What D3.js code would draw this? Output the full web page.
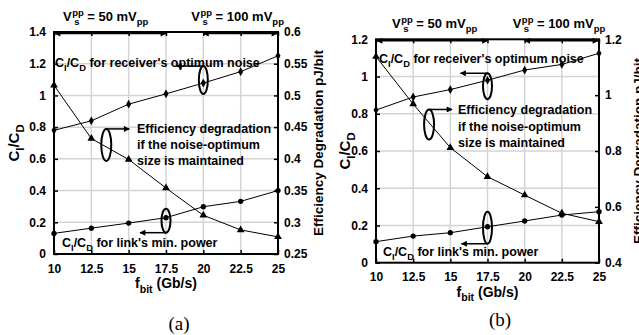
<!DOCTYPE html>
<html>
<head>
<meta charset="utf-8">
<script src="https://cdn.jsdelivr.net/npm/d3@7"></script>
<style>
  html, body { margin: 0; padding: 0; background: #fff; }
  svg { display: block; }
  text { font-family: "Liberation Sans", Arimo, sans-serif; font-weight: bold; fill: #000; }
</style>
</head>
<body>
<svg id="fig" width="639" height="335"></svg>
<script>
// Bit rate (Gb/s) shared by both panels
const fbit = [10, 12.5, 15, 17.5, 20, 22.5, 25];
const xTicks = [10, 12.5, 15, 17.5, 20, 22.5, 25];
const xTickLabels = ["10", "12.5", "15", "17.5", "20", "22.5", "25"];

// Panel (a)
const ratioNoiseA = [0.78, 0.84, 0.945, 1.01, 1.078, 1.15, 1.25];
const ratioPowerA = [0.13, 0.163, 0.195, 0.229, 0.298, 0.332, 0.40];
const degradA = [0.516, 0.432, 0.399, 0.354, 0.311, 0.288, 0.277];
const leftTicksA = [0, 0.2, 0.4, 0.6, 0.8, 1, 1.2, 1.4];
const leftTickLabelsA = ["0", "0.2", "0.4", "0.6", "0.8", "1", "1.2", "1.4"];
const rightTicksA = [0.25, 0.3, 0.35, 0.4, 0.45, 0.5, 0.55, 0.6];
const rightTickLabelsA = ["0.25", "0.3", "0.35", "0.4", "0.45", "0.5", "0.55", "0.6"];

// Panel (b)
const ratioNoiseB = [0.82, 0.89, 0.93, 0.98, 1.035, 1.065, 1.125];
const ratioPowerB = [0.113, 0.143, 0.161, 0.193, 0.224, 0.256, 0.274];
const degradB = [1.138, 0.968, 0.812, 0.708, 0.642, 0.577, 0.547];
const leftTicksB = [0, 0.2, 0.4, 0.6, 0.8, 1, 1.2];
const leftTickLabelsB = ["0", "0.2", "0.4", "0.6", "0.8", "1", "1.2"];
const rightTicksB = [0.4, 0.6, 0.8, 1, 1.2];
const rightTickLabelsB = ["0.4", "0.6", "0.8", "1", "1.2"];

const SANS = "'Liberation Sans', Arimo, sans-serif";
const svg = d3.select("#fig");

// arrowhead marker
const defs = svg.append("defs");
defs.append("marker")
  .attr("id", "ah").attr("viewBox", "0 0 10 10")
  .attr("refX", 9).attr("refY", 5)
  .attr("markerWidth", 7).attr("markerHeight", 6)
  .attr("markerUnits", "userSpaceOnUse")
  .attr("orient", "auto-start-reverse")
  .append("path").attr("d", "M0,0 L10,5 L0,10 Z").attr("fill", "#000");

// Writes base text followed by subscript runs
function richText(g, x, y, parts, size, anchor) {
  const t = g.append("text").attr("x", x).attr("y", y)
    .attr("font-size", size).attr("text-anchor", anchor || "start");
  let shift = 0;
  parts.forEach(p => {
    const s = t.append("tspan").text(p.t);
    const target = p.sub ? size * 0.33 : 0;
    if (target !== shift) { s.attr("dy", target - shift); shift = target; }
    if (p.sub) s.attr("font-size", size * 0.75);
  });
  return t;
}

// "V_s^pp = N mV_pp" with stacked sub/superscript
function supplyLabel(g, x, y, value) {
  const size = 13;
  const v = g.append("text").attr("x", x).attr("y", y).attr("font-size", size).text("V");
  const wV = v.node().getComputedTextLength();
  const sup = g.append("text").attr("x", x + wV + 0.5).attr("y", y - 5)
    .attr("font-size", 9.5).text("pp");
  g.append("text").attr("x", x + wV + 2.5).attr("y", y + 4)
    .attr("font-size", 9.5).text("s");
  const wS = sup.node().getComputedTextLength();
  const main = g.append("text").attr("x", x + wV + wS + 4).attr("y", y)
    .attr("font-size", size).text("= " + value + " mV");
  const wM = main.node().getComputedTextLength();
  g.append("text").attr("x", x + wV + wS + 4 + wM).attr("y", y + 4)
    .attr("font-size", 9.5).text("pp");
}

function ratioLabel(g, x, y, rest, size) {
  return richText(g, x, y, [
    { t: "C" }, { t: "I", sub: true }, { t: "/C" }, { t: "D", sub: true }, { t: rest }
  ], size);
}

function drawPanel(cfg) {
  const g = svg.append("g");
  const { x0, x1, top, bottom } = cfg;
  const x = d3.scaleLinear().domain([10, 25]).range([x0, x1]);
  const yL = d3.scaleLinear().domain(cfg.leftDomain).range([bottom, top]);
  const yR = d3.scaleLinear().domain(cfg.rightDomain).range([bottom, top]);

  // grid
  const grid = g.append("g").attr("stroke", "#d4d4d4").attr("stroke-width", 1.5);
  xTicks.slice(1, -1).forEach(v => grid.append("line")
    .attr("x1", x(v)).attr("x2", x(v)).attr("y1", top).attr("y2", bottom));
  cfg.leftTicks.slice(1, -1).forEach(v => grid.append("line")
    .attr("x1", x0).attr("x2", x1).attr("y1", yL(v)).attr("y2", yL(v)));

  // axes (ticks point inward)
  const fmt = (labels, ticks) => (d => labels[ticks.indexOf(d)]);
  const axB = g.append("g").attr("transform", `translate(0,${bottom})`)
    .call(d3.axisBottom(x).tickValues(xTicks).tickSizeInner(-4).tickSizeOuter(0)
      .tickPadding(8).tickFormat(fmt(xTickLabels, xTicks)));
  const axT = g.append("g").attr("transform", `translate(0,${top})`)
    .call(d3.axisTop(x).tickValues(xTicks).tickSizeInner(-4).tickSizeOuter(0).tickFormat(""));
  const axL = g.append("g").attr("transform", `translate(${x0},0)`)
    .call(d3.axisLeft(yL).tickValues(cfg.leftTicks).tickSizeInner(-4).tickSizeOuter(0)
      .tickPadding(8).tickFormat(fmt(cfg.leftTickLabels, cfg.leftTicks)));
  const axR = g.append("g").attr("transform", `translate(${x1},0)`)
    .call(d3.axisRight(yR).tickValues(cfg.rightTicks).tickSizeInner(-4).tickSizeOuter(0)
      .tickPadding(6).tickFormat(fmt(cfg.rightTickLabels, cfg.rightTicks)));
  [axB, axT, axL, axR].forEach(a => {
    a.attr("font-family", SANS).attr("font-size", 12);
    a.select(".domain").remove();
    a.selectAll(".tick line").attr("stroke", "#000").attr("stroke-width", 1.5);
    a.selectAll(".tick text").attr("font-size", 12).attr("font-family", SANS).attr("font-weight", "bold");
  });
  axB.selectAll(".tick text").attr("dy", "0.9em");

  // series
  const line = (ys, sc) => d3.line().x((d, i) => x(fbit[i])).y(d => sc(d))(ys);
  const series = [
    { v: cfg.noise, sc: yL, sym: d3.symbolDiamond, size: 22 },
    { v: cfg.power, sc: yL, sym: d3.symbolCircle, size: 22 },
    { v: cfg.degrad, sc: yR, sym: d3.symbolTriangle, size: 26 }
  ];
  series.forEach(s => {
    g.append("path").attr("d", line(s.v, s.sc)).attr("fill", "none")
      .attr("stroke", "#000").attr("stroke-width", 1);
    g.append("g").selectAll("path").data(s.v).join("path")
      .attr("transform", (d, i) => `translate(${x(fbit[i])},${s.sc(d)})`)
      .attr("d", d3.symbol().type(s.sym).size(s.size)).attr("fill", "#000");
  });

  // frame
  g.append("rect").attr("x", x0).attr("y", top).attr("width", x1 - x0).attr("height", bottom - top)
    .attr("fill", "none").attr("stroke", "#000").attr("stroke-width", 2);

  // supply-amplitude ranges along the top
  const ay = top + 1.5;
  g.append("line").attr("x1", x(10) + 1).attr("x2", x(17.5)).attr("y1", ay).attr("y2", ay)
    .attr("stroke", "#000").attr("stroke-width", 1.5)
    .attr("marker-start", "url(#ah)").attr("marker-end", "url(#ah)");
  g.append("line").attr("x1", x(20)).attr("x2", x(25) - 1).attr("y1", ay).attr("y2", ay)
    .attr("stroke", "#000").attr("stroke-width", 1.5)
    .attr("marker-start", "url(#ah)").attr("marker-end", "url(#ah)");
  supplyLabel(g, x0 + cfg.v50dx, top - 11, "50");
  supplyLabel(g, x(20) - 12, top - 11, "100");

  // callouts: ellipse on a series with an arrow toward its axis
  function callout(cx, cy, rx, ry, ay, ax) {
    g.append("ellipse").attr("cx", cx).attr("cy", cy).attr("rx", rx).attr("ry", ry)
      .attr("fill", "none").attr("stroke", "#000").attr("stroke-width", 2);
    g.append("line").attr("x1", cx).attr("x2", ax).attr("y1", ay).attr("y2", ay)
      .attr("stroke", "#000").attr("stroke-width", 1.5).attr("marker-end", "url(#ah)");
  }
  const n = cfg.noiseCallout, p = cfg.powerCallout, d = cfg.degCallout;
  const ncx = x(n.f), ncy = yL(n.v) - n.off;
  callout(ncx, ncy, 4.5, n.ry, ncy - n.ry, ncx - 27);
  const pcx = x(p.f), pcy = yL(p.v) + p.off;
  callout(pcx, pcy, 4.5, p.ry, pcy + p.ry, pcx - 26);
  const dcx = x(d.f), dcy = yR(d.v);
  callout(dcx, dcy, 5, d.ry, dcy - d.ry, dcx + 23);

  // annotation texts
  ratioLabel(g, x0 + cfg.noiseText[0], top + cfg.noiseText[1], " for receiver's optimum noise", 12.5);
  ratioLabel(g, x0 + cfg.powerText[0], bottom + cfg.powerText[1], " for link's min. power", 12.5);
  ["Efficiency degradation", "if the noise-optimum", "size is maintained"].forEach((s, i) =>
    g.append("text").attr("x", x0 + cfg.degText[0]).attr("y", top + cfg.degText[1] + i * 16.2)
      .attr("font-size", 12.5).text(s));

  // axis titles
  const midY = (top + bottom) / 2;
  richText(g.append("g").attr("transform", `translate(${cfg.leftTitleX},${midY}) rotate(-90)`),
    0, 0, [{ t: "C" }, { t: "I", sub: true }, { t: "/C" }, { t: "D", sub: true }], 15, "middle");
  g.append("text").attr("transform", `translate(${cfg.rightTitleX},${midY}) rotate(-90)`)
    .attr("text-anchor", "middle").attr("font-size", 13.5).text("Efficiency Degradation pJ/bit");
  richText(g, (x0 + x1) / 2, bottom + 34, [{ t: "f" }, { t: "bit", sub: true }, { t: " (Gb/s)" }], 14, "middle");

  // panel tag
  g.append("text").attr("x", cfg.tag[0]).attr("y", cfg.tag[1]).attr("text-anchor", "middle")
    .attr("font-size", 19)
    .style("font-family", "'Liberation Serif', 'Times New Roman', serif").style("font-weight", "normal")
    .text(cfg.tagText);
}

drawPanel({
  x0: 54, x1: 278, top: 32, bottom: 254,
  leftDomain: [0, 1.4], rightDomain: [0.25, 0.6],
  leftTicks: leftTicksA, leftTickLabels: leftTickLabelsA,
  rightTicks: rightTicksA, rightTickLabels: rightTickLabelsA,
  noise: ratioNoiseA, power: ratioPowerA, degrad: degradA,
  v50dx: 9,
  noiseCallout: { f: 20, v: 1.078, off: 3, ry: 14 },
  powerCallout: { f: 17.5, v: 0.229, off: 3, ry: 12 },
  degCallout: { f: 13.5, v: 0.422, ry: 16 },
  noiseText: [1, 35], powerText: [8, -7], degText: [83, 100.5],
  leftTitleX: 19, rightTitleX: 323,
  tag: [179, 330], tagText: "(a)"
});

drawPanel({
  x0: 376, x1: 599, top: 39.3, bottom: 262.7,
  leftDomain: [0, 1.2], rightDomain: [0.4, 1.2],
  leftTicks: leftTicksB, leftTickLabels: leftTickLabelsB,
  rightTicks: rightTicksB, rightTickLabels: rightTickLabelsB,
  noise: ratioNoiseB, power: ratioPowerB, degrad: degradB,
  v50dx: 16,
  noiseCallout: { f: 17.5, v: 0.98, off: -6, ry: 13 },
  powerCallout: { f: 17.5, v: 0.193, off: 1, ry: 16 },
  degCallout: { f: 13.57, v: 0.895, ry: 15 },
  noiseText: [3, 24], powerText: [7, -7], degText: [82, 75],
  leftTitleX: 350, rightTitleX: 643,
  tag: [500, 326], tagText: "(b)"
});
</script>
</body>
</html>
